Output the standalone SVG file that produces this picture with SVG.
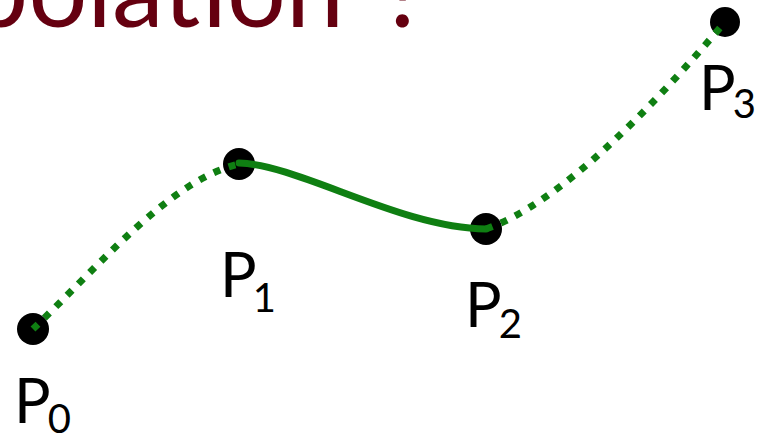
<svg xmlns="http://www.w3.org/2000/svg" width="759" height="436" viewBox="0 0 759 436">
<style>
.title{font-family:Lato,"Liberation Sans",sans-serif;font-size:104px;fill:#650010}
.lbl{font-family:Lato,"Liberation Sans",sans-serif;font-size:61px;fill:#000}
.sub{font-size:40px}
.pt{fill:#000}
.solid{fill:none;stroke:#0f7f12;stroke-width:7;stroke-linecap:round}
.dot{fill:none;stroke:#0f7f12;stroke-width:7;stroke-dasharray:7 9}
</style>
<rect width="759" height="436" fill="#fff"/>
<g id="title">
<text class="title" x="344" y="27" text-anchor="end">Interpolation</text>
<text class="title" x="428" y="27" text-anchor="end">?</text>
</g>
<g id="P0"><circle class="pt" cx="33" cy="329" r="16"/><text class="lbl" x="14" y="423">P<tspan class="sub" dx="-3" dy="10">0</tspan></text></g>
<g id="P1"><circle class="pt" cx="239" cy="164" r="16"/><text class="lbl" x="220" y="297">P<tspan class="sub" dx="-4" dy="15">1</tspan></text></g>
<g id="P2"><circle class="pt" cx="486" cy="229" r="16"/><text class="lbl" x="465" y="327">P<tspan class="sub" dx="-3" dy="11">2</tspan></text></g>
<g id="P3"><circle class="pt" cx="725" cy="22" r="15"/><text class="lbl" x="699" y="110">P<tspan class="sub" dx="-3" dy="8">3</tspan></text></g>
<g id="connectors">
<path class="dot" d="M33,329 C100,265 170,180 239,164"/>
<path class="solid" d="M239,163 C300,165 400,228 486,229"/>
<path class="dot" d="M486,229 C560,203 650,110 725,22"/>
</g>
</svg>
